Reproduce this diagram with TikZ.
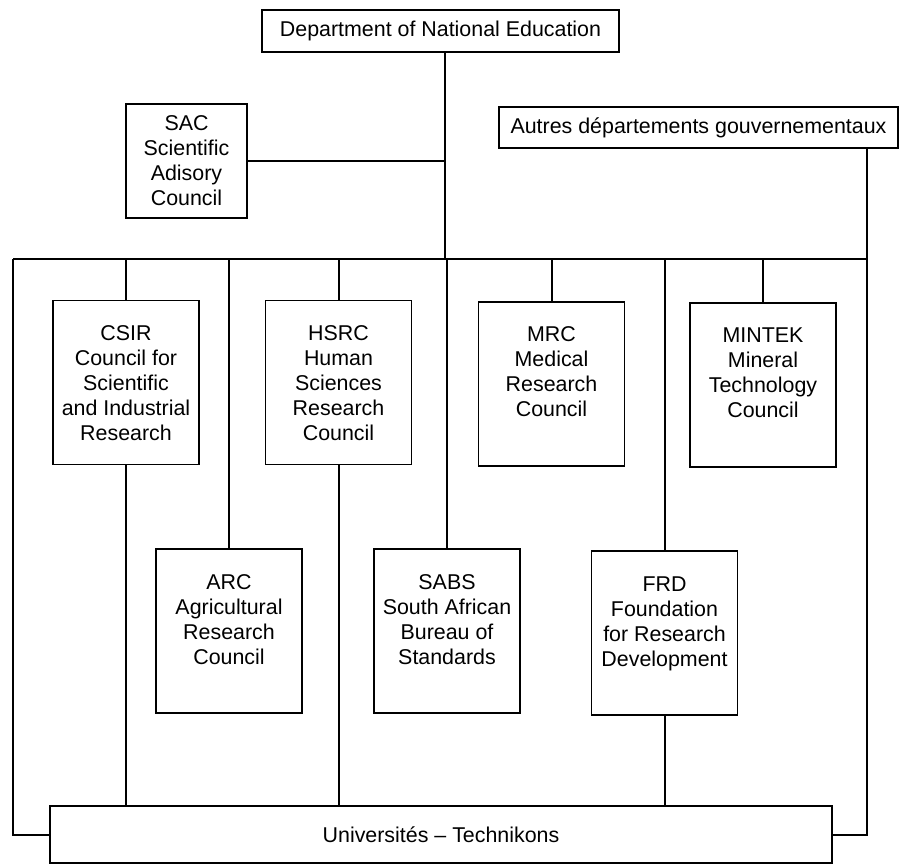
\documentclass[tikz,border=0pt]{standalone}
\usepackage{fontspec}
\setmainfont{Liberation Sans}
\newcommand\topbox[1]{\parbox[c][81pt][t]{72pt}{\centering\rule{0pt}{19.5pt}#1}}
\begin{document}
\begin{tikzpicture}[x=0.5pt,y=-0.5pt,
  box/.style={draw, line width=0.65pt, inner sep=0pt, align=center,
    font=\fontsize{10.7pt}{12.5pt}\selectfont},
  orgbox/.style={box, minimum width=73pt, minimum height=82pt},
  link/.style={line width=1pt}]
\useasboundingbox (0,0) rectangle (899,865);
% top level
\node[box, minimum width=178.5pt, minimum height=21pt] (dept) at (440.5,31) {Department of National Education};
\node[box, minimum width=60.5pt, minimum height=57pt] (sac) at (186.5,161) {SAC\\Scientific\\Adisory\\Council};
\node[box, minimum width=199.5pt, minimum height=20.5pt] (autres) at (698.5,127.5) {Autres départements gouvernementaux};
% first row
\node[orgbox] (csir) at (126,382.5) {\topbox{CSIR\\Council for\\Scientific\\and Industrial\\Research}};
\node[orgbox] (hsrc) at (338.5,382.5) {\topbox{HSRC\\Human\\Sciences\\Research\\Council}};
\node[orgbox] (mrc) at (551.5,384) {\topbox{MRC\\Medical\\Research\\Council}};
\node[orgbox] (mintek) at (763,385) {\topbox{MINTEK\\Mineral\\Technology\\Council}};
% second row
\node[orgbox] (arc) at (229,631) {\topbox{ARC\\Agricultural\\Research\\Council}};
\node[orgbox] (sabs) at (447,631) {\topbox{SABS\\South African\\Bureau of\\Standards}};
\node[orgbox] (frd) at (664.5,633) {\topbox{FRD\\Foundation\\for Research\\Development}};
% bottom
\node[box, minimum width=391pt, minimum height=28.5pt] (univ) at (441,834.5) {Universités -- Technikons};
% bus coordinates
\coordinate (busL) at (13,259);
\coordinate (busR) at (867,259);
\coordinate (dj) at (445,259);
% connectors
\draw[link] (dept.south -| dj) -- (dj);
\draw[link] (sac.east) -- (sac.east -| dj);
\draw[link] (busL) -- (busR);
\draw[link] (busL) |- (univ.west);
\draw[link] (autres.south -| busR) |- (univ.east);
\foreach \n in {csir,hsrc,mrc,mintek,arc,sabs,frd}
  \draw[link] (\n.north) -- (\n.north |- busL);
\foreach \n in {csir,hsrc,frd}
  \draw[link] (\n.south) -- (\n.south |- univ.north);
\end{tikzpicture}
\end{document}
